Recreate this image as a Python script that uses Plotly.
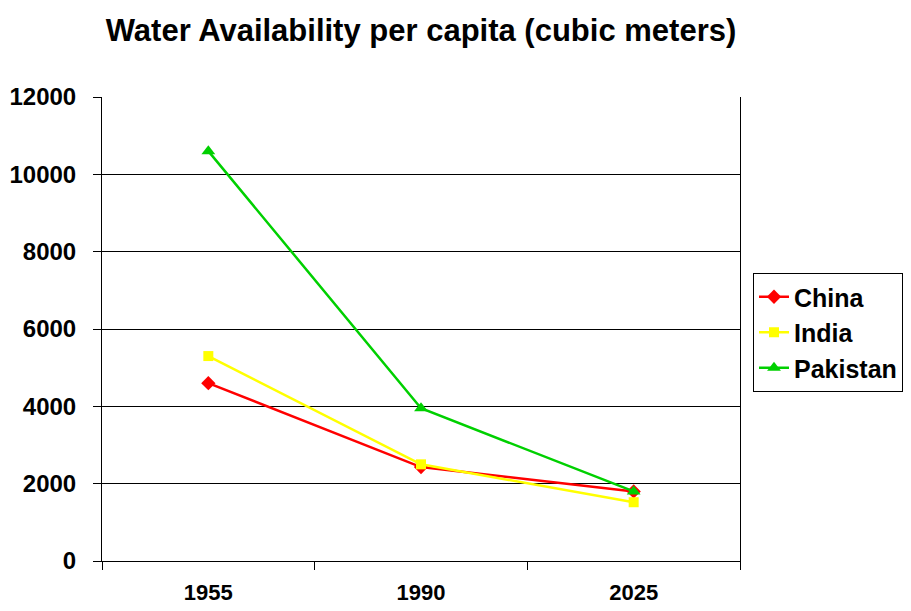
import plotly.graph_objects as go

years = ["1955", "1990", "2025"]
china = [4600, 2430, 1800]
india = [5300, 2500, 1520]
pakistan = [10600, 3950, 1800]
y_ticks = [0, 2000, 4000, 6000, 8000, 10000, 12000]
y_tick_labels = ["0", "2000", "4000", "6000", "8000", "10000", "12000"]

FONT = "Liberation Sans, Arial, sans-serif"

fig = go.Figure()
series = [
    ("China", china, "#FF0000", "diamond", 11),
    ("India", india, "#FFFF00", "square", 10),
    ("Pakistan", pakistan, "#00D000", "triangle-up", 12),
]
for name, vals, col, sym, size in series:
    fig.add_trace(go.Scatter(
        x=years, y=vals, name=name, mode="lines+markers",
        line=dict(color=col, width=2.5),
        marker=dict(color=col, symbol=sym, size=size),
    ))

fig.update_layout(
    width=911, height=611,
    margin=dict(l=102, r=171, t=97, b=50, autoexpand=False),
    paper_bgcolor="white", plot_bgcolor="white",
    font=dict(family=FONT, color="black"),
    title=dict(text="Water Availability per capita (cubic meters)",
               x=0.5, xanchor="center", xref="paper", y=1 - 30 / 611, yanchor="middle", yref="container",
               font=dict(size=31, weight="bold", family=FONT, color="black")),
    legend=dict(x=(753 - 102) / 638, xanchor="left", y=(561 - 273) / 464, yanchor="top",
                bordercolor="black", borderwidth=1, bgcolor="white",
                font=dict(size=25, weight="bold", family=FONT, color="black"),
                itemwidth=30),
    showlegend=True,
)
fig.update_xaxes(type="category", range=[-0.5, 2.5], tickson="boundaries",
                 ticks="outside", ticklen=8, tickcolor="black", tickwidth=1,
                 showline=True, linecolor="black", linewidth=1, mirror=False,
                 showgrid=False, ticklabelstandoff=12, automargin=False,
                 tickfont=dict(size=22, weight="bold", family=FONT, color="black"))
fig.update_yaxes(range=[0, 12000], tickvals=y_ticks, ticktext=y_tick_labels,
                 ticks="outside", ticklen=8, automargin=False,
                 tickcolor="black", showline=True, linecolor="black", linewidth=1,
                 mirror=True, showgrid=True, gridcolor="black", gridwidth=1,
                 zeroline=False, ticklabelstandoff=12,
                 tickfont=dict(size=24, weight="bold", family=FONT, color="black"))

fig.write_html("out.html", config={"displayModeBar": False},
               post_script="document.body.style.margin='0';")
